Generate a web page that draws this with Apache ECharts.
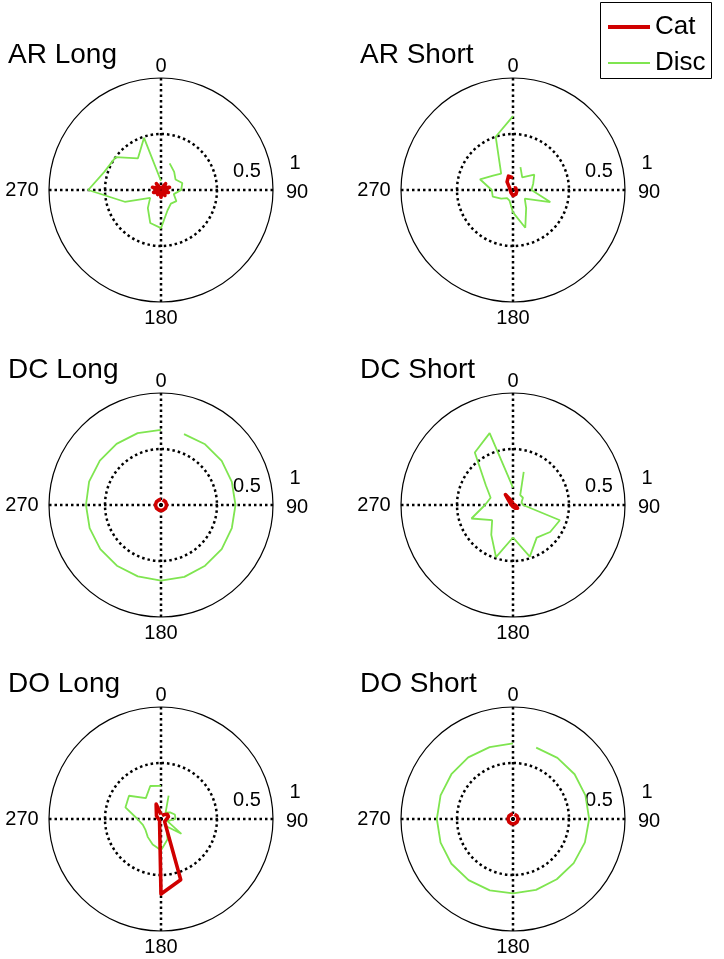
<!DOCTYPE html>
<html>
<head>
<meta charset="utf-8">
<script src="https://cdn.jsdelivr.net/npm/echarts@6/dist/echarts.min.js"></script>
<style>
html,body{margin:0;padding:0;background:#fff;}
#chart{width:724px;height:959px;}
</style>
</head>
<body>
<div id="chart"></div>
<script>
// ---------- data ----------
const panelTitles = ['AR Long', 'AR Short', 'DC Long', 'DC Short', 'DO Long', 'DO Short'];
const seriesNames = ['Cat', 'Disc'];
const angleTickLabels = ['0', '90', '180', '270'];
const radiusTickLabels = ['0.5', '1'];
const angles = [18, 36, 54, 72, 90, 108, 126, 144, 162, 180, 198, 216, 234, 252, 270, 288, 306, 324, 342, 360];

const discARLong  = [0.25, 0.2, 0.16, 0.2, 0.18, 0.12, 0.17, 0.15, 0.19, 0.34, 0.31, 0.2, 0.12, 0.34, 0.65, 0.53, 0.5, 0.35, 0.49, 0.08];
const catARLong   = [0.02, 0.07, 0.03, 0.08, 0.02, 0.07, 0.03, 0.06, 0.02, 0.065, 0.02, 0.05, 0.03, 0.07, 0.03, 0.08, 0.02, 0.07, 0.02, 0.03];
const discARShort = [0.215, 0.14, 0.235, 0.19, 0.165, 0.35, 0.13, 0.2, 0.355, 0.2, 0.1, 0.09, 0.13, 0.19, 0.19, 0.31, 0.22, 0.18, 0.5, 0.66];
const catARShort  = [0.02, 0.03, 0.03, 0.03, 0.035, 0.035, 0.04, 0.045, 0.045, 0.05, 0.04, 0.03, 0.025, 0.025, 0.025, 0.03, 0.04, 0.09, 0.13, 0.11];
const discDCLong  = [0.665, 0.67, 0.67, 0.665, 0.665, 0.665, 0.67, 0.67, 0.675, 0.675, 0.67, 0.67, 0.67, 0.67, 0.67, 0.675, 0.675, 0.675, 0.675, 0.67];
const catDCLong   = [0.05, 0.05, 0.05, 0.05, 0.05, 0.05, 0.05, 0.05, 0.05, 0.05, 0.05, 0.05, 0.05, 0.05, 0.05, 0.05, 0.05, 0.05, 0.05, 0.05];
const discDCShort = [0.31, 0.11, 0.11, 0.08, 0.09, 0.44, 0.41, 0.36, 0.485, 0.29, 0.49, 0.33, 0.23, 0.39, 0.25, 0.21, 0.3, 0.58, 0.675, 0.155];
const catDCShort  = [0.01, 0.015, 0.01, 0.02, 0.015, 0.03, 0.05, 0.035, 0.02, 0.015, 0.01, 0.01, 0.01, 0.01, 0.015, 0.02, 0.04, 0.115, 0.035, 0.015];
const discDOLong  = [0.22, 0.07, 0.1, 0.13, 0.13, 0.06, 0.225, 0.08, 0.19, 0.28, 0.24, 0.2, 0.17, 0.17, 0.21, 0.334, 0.353, 0.23, 0.31, 0.295];
const catDOLong   = [0.03, 0.05, 0.07, 0.07, 0.05, 0.04, 0.04, 0.05, 0.57, 0.67, 0.04, 0.02, 0.02, 0.02, 0.02, 0.03, 0.05, 0.07, 0.14, 0.04];
const discDOShort = [0.67, 0.675, 0.68, 0.68, 0.68, 0.675, 0.67, 0.665, 0.665, 0.665, 0.67, 0.675, 0.68, 0.68, 0.68, 0.68, 0.68, 0.68, 0.675, 0.675];
const catDOShort  = [0.045, 0.045, 0.045, 0.045, 0.045, 0.045, 0.045, 0.045, 0.045, 0.045, 0.045, 0.045, 0.045, 0.045, 0.045, 0.045, 0.045, 0.045, 0.045, 0.045];

const catData  = [catARLong, catARShort, catDCLong, catDCShort, catDOLong, catDOShort];
const discData = [discARLong, discARShort, discDCLong, discDCShort, discDOLong, discDOShort];

// ---------- layout / style ----------
const centers = [[161, 190], [513, 190], [161, 505], [513, 505], [161, 819], [513, 819]];
const R = 112;
const FONT = '"Liberation Sans", Arial, Helvetica, sans-serif';
const RED = '#d00000';
const GREEN = '#7fe550';
const dotted = { color: '#000', width: 2.5, type: [2.5, 3] };

const polar = [], angleAxis = [], radiusAxis = [], series = [], graphic = [];

centers.forEach(function (c, i) {
  polar.push({ center: c, radius: R });
  angleAxis.push({
    polarIndex: i, type: 'value', min: 0, max: 360, interval: 90,
    startAngle: 90, clockwise: true,
    axisLine: { show: true, lineStyle: { color: '#000', width: 1.2 } },
    axisTick: { show: false },
    axisLabel: { show: false },
    splitLine: { show: true, lineStyle: dotted }
  });
  radiusAxis.push({
    polarIndex: i, type: 'value', min: 0, max: 1, interval: 0.5,
    axisLine: { show: false }, axisTick: { show: false }, axisLabel: { show: false },
    splitLine: { show: true, lineStyle: { color: ['#000', '#000', 'rgba(0,0,0,0)'], width: 2.5, type: [2.5, 3] } }
  });
  series.push({
    name: seriesNames[1], type: 'line', coordinateSystem: 'polar', polarIndex: i,
    symbol: 'none', z: 3,
    lineStyle: { color: GREEN, width: 1.8 }, itemStyle: { color: GREEN },
    data: angles.map(function (a, k) { return [discData[i][k], a]; })
  });
  series.push({
    name: seriesNames[0], type: 'line', coordinateSystem: 'polar', polarIndex: i,
    symbol: 'none', z: 4,
    lineStyle: { color: RED, width: 3.6, join: 'round' }, itemStyle: { color: RED },
    data: angles.map(function (a, k) { return [catData[i][k], a]; })
  });

  const cx = c[0], cy = c[1];
  function txt(s, x, y, size, align) {
    graphic.push({
      type: 'text', x: x, y: y, silent: true,
      style: { text: s, fontSize: size, fontFamily: FONT, fill: '#000', align: align || 'center', verticalAlign: 'middle' }
    });
  }
  txt(panelTitles[i], cx - 153, cy - 135, 28, 'left');
  txt(angleTickLabels[0], cx, cy - 124, 20);
  txt(angleTickLabels[1], cx + 136, cy + 2, 20);
  txt(angleTickLabels[2], cx, cy + 128, 20);
  txt(angleTickLabels[3], cx - 139, cy, 20);
  txt(radiusTickLabels[0], cx + 86, cy - 19, 20);
  txt(radiusTickLabels[1], cx + 134, cy - 27, 20);
});

// legend box frame
graphic.push({
  type: 'rect', silent: true, z: 10,
  shape: { x: 600.5, y: 2.5, width: 111, height: 76 },
  style: { fill: 'none', stroke: '#000', lineWidth: 1 }
});

const legendCommon = {
  orient: 'vertical', left: 608, itemWidth: 42, icon: 'rect',
  padding: 0, selectedMode: false, itemGap: 0,
  textStyle: { fontSize: 26, fontFamily: FONT, color: '#000' }
};

const chart = echarts.init(document.getElementById('chart'), null, { renderer: 'canvas' });
chart.setOption({
  animation: false,
  backgroundColor: '#fff',
  legend: [
    Object.assign({}, legendCommon, { data: [seriesNames[0]], top: 14, itemHeight: 4 }),
    Object.assign({}, legendCommon, { data: [seriesNames[1]], top: 50, itemHeight: 2 })
  ],
  polar: polar,
  angleAxis: angleAxis,
  radiusAxis: radiusAxis,
  series: series,
  graphic: graphic
});
</script>
</body>
</html>
